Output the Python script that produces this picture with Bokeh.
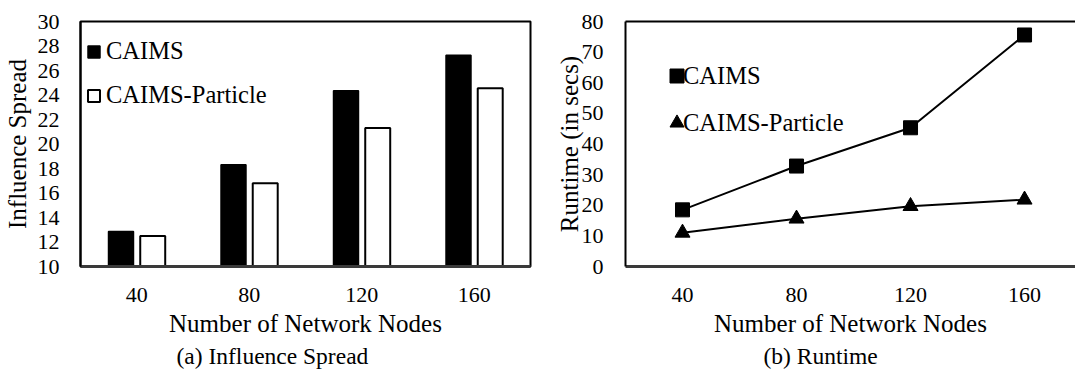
from bokeh.plotting import figure
from bokeh.layouts import row
from bokeh.models import (Range1d, FixedTicker, Legend, LegendItem, Title,
                          LinearAxis, ColumnDataSource)
from bokeh.transform import dodge
from bokeh.embed import file_html
from bokeh.resources import INLINE

# ---- data ----
nodes = ["40", "80", "120", "160"]
spread_caims = [12.85, 18.3, 24.35, 27.25]
spread_particle = [12.5, 16.8, 21.3, 24.55]
runtime_caims = [18.5, 32.8, 45.3, 75.6]
runtime_particle = [11.0, 15.6, 19.7, 21.8]
spread_ticks = list(range(10, 31, 2))
runtime_ticks = list(range(0, 81, 10))
series_names = ["CAIMS", "CAIMS-Particle"]
x_title = "Number of Network Nodes"
captions = ["(a) Influence Spread", "(b) Runtime"]

FONT = "Liberation Serif"
TICK_FS = "22px"
TITLE_FS = "25px"
LEG_FS = "24.5px"
CAP_FS = "23.5px"


def style(p):
    p.grid.visible = False
    for ax in p.axis:
        ax.major_tick_line_color = None
        ax.minor_tick_line_color = None
        ax.major_tick_out = 0
        ax.major_tick_in = 0
        ax.minor_tick_out = 0
        ax.minor_tick_in = 0
        ax.major_label_text_font = FONT
        ax.major_label_text_font_size = TICK_FS
        ax.major_label_text_color = "black"
        ax.axis_label_text_font = FONT
        ax.axis_label_text_font_size = TITLE_FS
        ax.axis_label_text_font_style = "normal"
        ax.axis_label_text_color = "black"
    p.xaxis.axis_label = x_title
    p.xaxis.major_label_standoff = 21
    p.xaxis.axis_label_standoff = 5
    p.xaxis.axis_line_color = "#3a3a3a"
    p.xaxis.axis_line_width = 3
    p.yaxis.axis_line_color = "black"
    p.yaxis.axis_line_width = 2


def caption(p, text, offset):
    p.add_layout(Title(text=text, align="left", offset=offset,
                       text_font=FONT, text_font_size=CAP_FS,
                       text_color="black", text_font_style="normal",
                       standoff=2), "below")


# ---- left: influence spread bars ----
p1 = figure(width=545, height=372, x_range=nodes,
            y_range=Range1d(spread_ticks[0], spread_ticks[-1]),
            output_backend="svg", toolbar_location=None,
            min_border_left=80, min_border_right=15,
            min_border_top=18, min_border_bottom=106)
style(p1)
p1.outline_line_color = "black"
p1.outline_line_width = 2
p1.yaxis.ticker = FixedTicker(ticks=spread_ticks)
p1.yaxis.major_label_standoff = 21
p1.yaxis.axis_label = "Influence Spread"
p1.yaxis.axis_label_standoff = 4

src = ColumnDataSource(dict(nodes=nodes, caims=spread_caims, particle=spread_particle))
r1 = p1.vbar(x=dodge("nodes", -0.14, range=p1.x_range), top="caims",
             bottom=spread_ticks[0], width=0.222, source=src,
             fill_color="black", line_color="black", line_width=1.5)
r2 = p1.vbar(x=dodge("nodes", 0.142, range=p1.x_range), top="particle",
             bottom=spread_ticks[0], width=0.222, source=src,
             fill_color="white", line_color="black", line_width=2)

leg1 = Legend(items=[LegendItem(label=series_names[0], renderers=[r1]),
                     LegendItem(label=series_names[1], renderers=[r2])],
              location=(6, 157), glyph_width=15, glyph_height=15,
              label_standoff=5, spacing=16, padding=0, margin=0,
              border_line_color=None, background_fill_alpha=0,
              label_text_font=FONT, label_text_font_size=LEG_FS,
              label_text_color="black")
p1.add_layout(leg1)
caption(p1, captions[0], 96)

# ---- right: runtime lines ----
xs = list(range(len(nodes)))
p2 = figure(width=530, height=372, x_range=Range1d(-0.5, 3.447),
            y_range=Range1d(runtime_ticks[0], runtime_ticks[-1]),
            output_backend="svg", toolbar_location=None,
            min_border_left=80, min_border_right=0,
            min_border_top=21, min_border_bottom=106)
style(p2)
p2.outline_line_color = None
p2.xaxis.ticker = FixedTicker(ticks=xs)
p2.xaxis.major_label_overrides = {i: n for i, n in zip(xs, nodes)}
p2.yaxis.ticker = FixedTicker(ticks=runtime_ticks)
p2.yaxis.major_label_standoff = 22
p2.yaxis.axis_label = "Runtime (in secs)"
p2.yaxis.axis_label_standoff = -4

top_ax = LinearAxis(ticker=FixedTicker(ticks=[]), axis_line_color="black",
                    axis_line_width=2, major_tick_line_color=None,
                    minor_tick_line_color=None, major_tick_out=0,
                    major_label_text_font_size="0px", major_label_standoff=0)
p2.add_layout(top_ax, "above")

l1 = p2.line(xs, runtime_caims, line_color="black", line_width=2)
s1 = p2.scatter(xs, runtime_caims, marker="square", size=14,
                fill_color="black", line_color="black")
l2 = p2.line(xs, runtime_particle, line_color="black", line_width=2)
s2 = p2.scatter(xs, runtime_particle, marker="triangle", size=15,
                fill_color="black", line_color="black")

# marker part of the legend (no visible labels) and text part (no glyph)
leg2a = Legend(items=[LegendItem(label=" ", renderers=[s1]),
                      LegendItem(label=" ", renderers=[s2])],
               location=(34, 126), glyph_width=35, glyph_height=35,
               label_standoff=0, spacing=12, padding=0, margin=0,
               border_line_color=None, background_fill_alpha=0,
               label_text_font=FONT, label_text_font_size="1px",
               label_text_alpha=0)
leg2b = Legend(items=[LegendItem(label=series_names[0], renderers=[l1]),
                      LegendItem(label=series_names[1], renderers=[l2])],
               location=(58, 126), glyph_width=0, glyph_height=35,
               label_standoff=0, spacing=12, padding=0, margin=0,
               border_line_color=None, background_fill_alpha=0,
               label_text_font=FONT, label_text_font_size=LEG_FS,
               label_text_color="black")
p2.add_layout(leg2a)
p2.add_layout(leg2b)
caption(p2, captions[1], 138)

layout = row(p1, p2)
open("out.html", "w").write(file_html(layout, INLINE))
